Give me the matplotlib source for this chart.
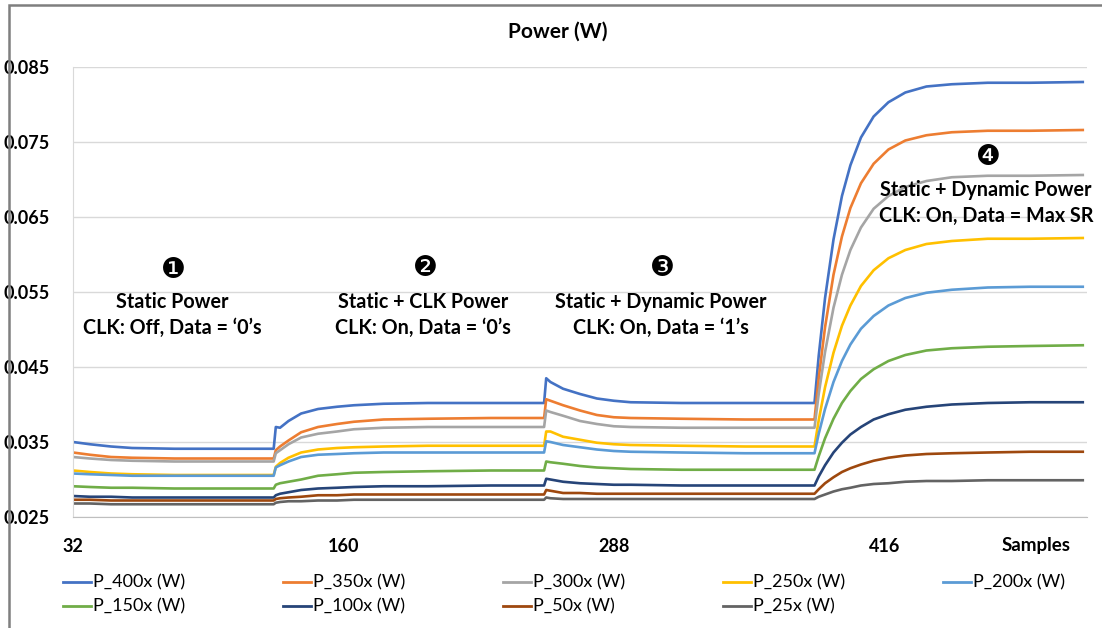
import matplotlib
matplotlib.use("Agg")
import matplotlib.pyplot as plt
from matplotlib.lines import Line2D
from matplotlib.patches import Rectangle

# ----- DATA -----
samples = [32, 40, 50, 60, 80, 100, 127,
           128, 130, 134, 140, 148, 157, 165, 179, 200, 230, 255,
           256, 258, 264, 272, 280, 288, 296, 320, 350, 383,
           385, 388, 392, 396, 400, 405, 411, 418, 426, 436, 448, 465, 485, 510]

p_400x = [0.0350, 0.0347, 0.0344, 0.0342, 0.0341, 0.0341, 0.0341,
          0.0370, 0.0369, 0.0378, 0.0388, 0.0394, 0.0397, 0.0399, 0.0401, 0.0402, 0.0402, 0.0402,
          0.0435, 0.0430, 0.0421, 0.0414, 0.0408, 0.0405, 0.0403, 0.0402, 0.0402, 0.0402,
          0.0465, 0.0542, 0.0620, 0.0678, 0.0719, 0.0756, 0.0784, 0.0803, 0.0816, 0.0824, 0.0827, 0.0829, 0.0829, 0.0830]
p_350x = [0.0336, 0.0333, 0.0330, 0.0329, 0.0328, 0.0328, 0.0328,
          0.0339, 0.0344, 0.0352, 0.0363, 0.0370, 0.0374, 0.0377, 0.0380, 0.0381, 0.0382, 0.0382,
          0.0407, 0.0405, 0.0399, 0.0392, 0.0386, 0.0383, 0.0382, 0.0381, 0.0380, 0.0380,
          0.0435, 0.0503, 0.0573, 0.0624, 0.0662, 0.0695, 0.0721, 0.0740, 0.0752, 0.0759, 0.0763, 0.0765, 0.0765, 0.0766]
p_300x = [0.0330, 0.0328, 0.0326, 0.0325, 0.0324, 0.0324, 0.0324,
          0.0335, 0.0339, 0.0347, 0.0356, 0.0361, 0.0364, 0.0367, 0.0369, 0.0370, 0.0370, 0.0370,
          0.0392, 0.0390, 0.0385, 0.0378, 0.0374, 0.0371, 0.0370, 0.0369, 0.0369, 0.0369,
          0.0414, 0.0470, 0.0529, 0.0573, 0.0606, 0.0636, 0.0661, 0.0678, 0.0690, 0.0698, 0.0703, 0.0705, 0.0705, 0.0706]
p_250x = [0.0312, 0.0310, 0.0308, 0.0307, 0.0306, 0.0306, 0.0306,
          0.0317, 0.0322, 0.0329, 0.0336, 0.0340, 0.0342, 0.0343, 0.0344, 0.0345, 0.0345, 0.0345,
          0.0364, 0.0364, 0.0357, 0.0353, 0.0349, 0.0347, 0.0346, 0.0345, 0.0344, 0.0344,
          0.0379, 0.0423, 0.0469, 0.0505, 0.0532, 0.0558, 0.0579, 0.0595, 0.0606, 0.0614, 0.0618, 0.0621, 0.0621, 0.0622]
p_200x = [0.0308, 0.0307, 0.0306, 0.0305, 0.0305, 0.0305, 0.0305,
          0.0316, 0.0319, 0.0324, 0.0330, 0.0333, 0.0334, 0.0335, 0.0336, 0.0336, 0.0336, 0.0336,
          0.0351, 0.0350, 0.0346, 0.0343, 0.0340, 0.0338, 0.0337, 0.0336, 0.0335, 0.0335,
          0.0361, 0.0394, 0.0430, 0.0458, 0.0480, 0.0501, 0.0518, 0.0532, 0.0542, 0.0549, 0.0553, 0.0556, 0.0557, 0.0557]
p_150x = [0.0291, 0.0290, 0.0289, 0.0289, 0.0288, 0.0288, 0.0288,
          0.0293, 0.0295, 0.0297, 0.0300, 0.0305, 0.0307, 0.0309, 0.0310, 0.0311, 0.0312, 0.0312,
          0.0324, 0.0323, 0.0321, 0.0318, 0.0316, 0.0315, 0.0314, 0.0313, 0.0313, 0.0313,
          0.0331, 0.0355, 0.0381, 0.0402, 0.0418, 0.0434, 0.0447, 0.0458, 0.0466, 0.0472, 0.0475, 0.0477, 0.0478, 0.0479]
p_100x = [0.0278, 0.0277, 0.0277, 0.0276, 0.0276, 0.0276, 0.0276,
          0.0279, 0.0281, 0.0283, 0.0286, 0.0288, 0.0289, 0.0290, 0.0291, 0.0291, 0.0292, 0.0292,
          0.0301, 0.0300, 0.0297, 0.0295, 0.0294, 0.0293, 0.0293, 0.0292, 0.0292, 0.0292,
          0.0304, 0.0319, 0.0336, 0.0349, 0.0360, 0.0370, 0.0380, 0.0387, 0.0393, 0.0397, 0.0400, 0.0402, 0.0403, 0.0403]
p_50x = [0.0273, 0.0273, 0.0272, 0.0272, 0.0272, 0.0272, 0.0272,
         0.0274, 0.0275, 0.0276, 0.0277, 0.0279, 0.0279, 0.0280, 0.0280, 0.0280, 0.0280, 0.0280,
         0.0286, 0.0285, 0.0282, 0.0282, 0.0281, 0.0281, 0.0281, 0.0281, 0.0281, 0.0281,
         0.0287, 0.0295, 0.0303, 0.0310, 0.0315, 0.0320, 0.0325, 0.0329, 0.0332, 0.0334, 0.0335, 0.0336, 0.0337, 0.0337]
p_25x = [0.0268, 0.0268, 0.0267, 0.0267, 0.0267, 0.0267, 0.0267,
         0.0269, 0.0270, 0.0271, 0.0271, 0.0272, 0.0272, 0.0273, 0.0273, 0.0273, 0.0273, 0.0273,
         0.0276, 0.0275, 0.0274, 0.0274, 0.0274, 0.0274, 0.0274, 0.0274, 0.0274, 0.0274,
         0.0277, 0.0280, 0.0284, 0.0287, 0.0289, 0.0292, 0.0294, 0.0295, 0.0297, 0.0298, 0.0298, 0.0299, 0.0299, 0.0299]

series_names = ["P_400x (W)", "P_350x (W)", "P_300x (W)", "P_250x (W)", "P_200x (W)",
                "P_150x (W)", "P_100x (W)", "P_50x (W)", "P_25x (W)"]
series_values = [p_400x, p_350x, p_300x, p_250x, p_200x, p_150x, p_100x, p_50x, p_25x]
colors = ["#4472C4", "#ED7D31", "#A5A5A5", "#FFC000", "#5B9BD5",
          "#70AD47", "#264478", "#9E480E", "#636363"]

x_ticks = [32, 160, 288, 416]
y_ticks = [0.025, 0.035, 0.045, 0.055, 0.065, 0.075, 0.085]

phase_marks = ["\u2776", "\u2777", "\u2778", "\u2779"]
phase_titles = ["Static Power", "Static + CLK Power",
                "Static + Dynamic Power", "Static + Dynamic Power"]
phase_notes = ["CLK: Off, Data = \u20180\u2019s", "CLK: On, Data = \u20180\u2019s",
               "CLK: On, Data = \u20181\u2019s", "CLK: On, Data = Max SR"]

W, H = 1102, 628
FONT = ["Lato", "DejaVu Sans"]
plt.rcParams["font.family"] = FONT


def fx(px):
    return px / W


def fy(py):
    return 1 - py / H


fig = plt.figure(figsize=(W / 100, H / 100), dpi=100)
ax = fig.add_axes([fx(73), fy(517), fx(1087) - fx(73), fy(67) - fy(517)])

for name, vals, col in zip(series_names, series_values, colors):
    ax.plot(samples, vals, color=col, lw=1.9, label=name, solid_joinstyle="round")

ax.set_xlim(32, 512)
ax.set_ylim(0.025, 0.085)
ax.set_yticks(y_ticks)
ax.set_yticklabels([f"{v:.3f}" for v in y_ticks])
ax.set_xticks(x_ticks)
ax.set_xticklabels([str(v) for v in x_ticks])
ax.tick_params(axis="both", length=0, labelsize=13)
ax.tick_params(axis="y", pad=17)
ax.tick_params(axis="x", pad=15)
for lab in ax.get_xticklabels() + ax.get_yticklabels():
    lab.set_fontweight("bold")
ax.grid(axis="y", color="#d9d9d9", lw=1)
ax.set_axisbelow(True)
for side in ["top", "right"]:
    ax.spines[side].set_visible(False)
ax.spines["bottom"].set_color("#bfbfbf")
ax.spines["left"].set_color("#d9d9d9")

fig.text(fx(558), fy(32), "Power (W)", ha="center", va="center",
         fontsize=15, fontweight="bold")
fig.text(fx(1036), fy(546), "Samples", ha="center", va="center",
         fontsize=13.5, fontweight="bold")

# phase annotations (pixel positions of the text blocks)
mark_pos = [(173, 270), (425, 268), (662, 268), (988, 157)]
text_x = [172, 423, 661, 986]
text_y = [(302, 328), (302, 328), (302, 328), (190, 216)]
for i in range(4):
    fig.text(fx(mark_pos[i][0]), fy(mark_pos[i][1]), phase_marks[i], ha="center",
             va="center", fontsize=20, family=["DejaVu Sans"])
    fig.text(fx(text_x[i]), fy(text_y[i][0]), phase_titles[i], ha="center",
             va="center", fontsize=14.2, fontweight="bold")
    fig.text(fx(text_x[i]), fy(text_y[i][1]), phase_notes[i], ha="center",
             va="center", fontsize=14.2, fontweight="bold")

# legend, 5 columns x 2 rows
for i, (name, col) in enumerate(zip(series_names, colors)):
    r, c = divmod(i, 5)
    x0 = 63 + c * 220
    y0 = 582 + r * 24
    fig.add_artist(Line2D([fx(x0), fx(x0 + 28)], [fy(y0), fy(y0)], color=col, lw=2,
                          transform=fig.transFigure))
    fig.text(fx(x0 + 30), fy(y0), name, ha="left", va="center", fontsize=13)

# outer chart border
fig.add_artist(Rectangle((fx(9), fy(700)), fx(1200), fy(5) - fy(700), fill=False,
                         edgecolor="#7f7f7f", lw=1.8, transform=fig.transFigure))

fig.savefig("out.png", dpi=100)
